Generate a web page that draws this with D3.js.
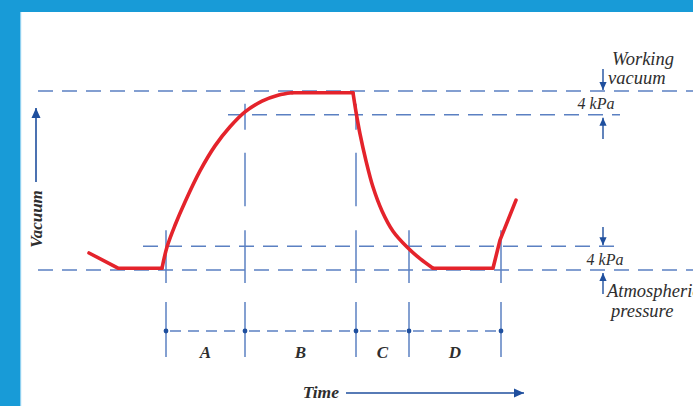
<!DOCTYPE html>
<html>
<head>
<meta charset="utf-8">
<script src="https://cdn.jsdelivr.net/npm/d3@7"></script>
<style>
  html, body { margin: 0; padding: 0; background: #ffffff; }
  svg { display: block; }
  text { font-family: "Liberation Serif", "DejaVu Serif", serif; font-style: italic; fill: #2e2e2e; }
</style>
</head>
<body>
<svg id="chart" width="693" height="406"></svg>
<script>
// Vacuum levels (kPa below atmospheric)
const levelNames = ["Atmospheric", "Low threshold", "High threshold", "Working vacuum"];
const levelValues = [0, 4, 26, 30];

// Cycle phases and their boundaries along the time axis
const phaseLabels = ["A", "B", "C", "D"];
const phaseBounds = [32, 51.75, 79.5, 92.75, 115.75];

// Vacuum trace over one cycle
const traceTime   = [12.75, 20, 31, 32.25, 34.25, 36.75, 40.5, 44.25, 48, 51.75, 56, 60, 63.5, 78.75, 79.5, 80.5, 82, 83.75, 86, 88.75, 92.25, 95.5, 98.75, 113.75, 115.5, 119.5];
const traceVacuum = [2.85, 0.3, 0.3, 3.85, 7.5, 11.4, 16.6, 20.8, 24.0, 26.5, 28.3, 29.3, 29.7, 29.7, 26.5, 22.8, 18.3, 13.9, 9.9, 6.5, 3.85, 1.9, 0.3, 0.3, 5.0, 11.7];

const W = 693, H = 406;
const svg = d3.select("#chart");

const x = d3.scaleLinear().domain([0, 160]).range([38, 678]);
const y = d3.scaleLinear().domain([0, 30]).range([270, 91]);

const guide = "#5b80c2";
const arrowBlue = "#1f4f9e";

// Frame
svg.append("rect").attr("x", 0).attr("y", 0).attr("width", W).attr("height", H).attr("fill", "#189bd7");
svg.append("rect").attr("x", 20).attr("y", 12).attr("width", W - 20).attr("height", H - 12).attr("fill", "#ffffff");
svg.append("rect").attr("x", 20).attr("y", 12).attr("width", 1.2).attr("height", H - 12).attr("fill", "#8fd0f0");

// Horizontal level lines
const levelExtent = [[0, 165], [26.25, 145], [47.5, 145.5], [0, 165]];
levelValues.forEach((v, i) => {
  svg.append("line")
    .attr("x1", x(levelExtent[i][0])).attr("x2", x(levelExtent[i][1]))
    .attr("y1", y(v)).attr("y2", y(v))
    .attr("stroke", guide).attr("stroke-width", 1.5)
    .attr("stroke-dasharray", "15,9");
});

// Vertical phase markers crossing the level lines
const vseg = (t, y1, y2) => svg.append("line")
  .attr("x1", x(t)).attr("x2", x(t)).attr("y1", y1).attr("y2", y2)
  .attr("stroke", guide).attr("stroke-width", 1.5);

phaseBounds.forEach(t => vseg(t, y(4) - 16, y(0) + 13));
[phaseBounds[1], phaseBounds[2]].forEach(t => {
  vseg(t, y(26) - 11, y(26) + 15);
  vseg(t, y(26) + 38, y(4) - 40);
});

// Phase bar
const barY = 331;
phaseBounds.forEach(t => vseg(t, 302, 357));
for (let i = 0; i < phaseBounds.length - 1; i++) {
  svg.append("line")
    .attr("x1", x(phaseBounds[i]) + 4).attr("x2", x(phaseBounds[i + 1]) - 3)
    .attr("y1", barY).attr("y2", barY)
    .attr("stroke", guide).attr("stroke-width", 1.5)
    .attr("stroke-dasharray", "11,7");
}
svg.selectAll("circle.dot").data(phaseBounds).enter().append("circle")
  .attr("class", "dot")
  .attr("cx", d => x(d)).attr("cy", barY).attr("r", 2.4)
  .attr("fill", arrowBlue);
svg.selectAll("text.phase").data(phaseLabels).enter().append("text")
  .attr("class", "phase")
  .attr("x", (d, i) => (x(phaseBounds[i]) + x(phaseBounds[i + 1])) / 2)
  .attr("y", 358)
  .attr("text-anchor", "middle")
  .attr("font-size", 17).attr("font-weight", "bold")
  .text(d => d);

// Vacuum trace, drawn piecewise so the valve switch points stay sharp
const pts = traceTime.map((t, i) => [x(t), y(traceVacuum[i])]);
const pieces = [
  { from: 0, to: 2, curve: d3.curveLinear },
  { from: 2, to: 12, curve: d3.curveCatmullRom.alpha(0.5) },
  { from: 12, to: 13, curve: d3.curveLinear },
  { from: 13, to: 22, curve: d3.curveCatmullRom.alpha(0.5) },
  { from: 22, to: 25, curve: d3.curveLinear }
];
pieces.forEach(p => {
  svg.append("path")
    .attr("d", d3.line().curve(p.curve)(pts.slice(p.from, p.to + 1)))
    .attr("fill", "none").attr("stroke", "#e4232b")
    .attr("stroke-width", 3.6)
    .attr("stroke-linejoin", "round").attr("stroke-linecap", "round");
});

// Arrow helper (line plus triangular head at the tip)
function arrow(x1, y1, x2, y2, head, width) {
  svg.append("line").attr("x1", x1).attr("y1", y1).attr("x2", x2).attr("y2", y2)
    .attr("stroke", arrowBlue).attr("stroke-width", width);
  const a = Math.atan2(y2 - y1, x2 - x1);
  const hw = head * 0.45;
  const bx = x2 - head * Math.cos(a), by = y2 - head * Math.sin(a);
  const p = [
    [x2, y2],
    [bx + hw * Math.sin(a), by - hw * Math.cos(a)],
    [bx - hw * Math.sin(a), by + hw * Math.cos(a)]
  ];
  svg.append("path").attr("d", "M" + p.join("L") + "Z").attr("fill", arrowBlue);
}

// Vertical axis
arrow(36, 182, 36, 108, 10, 1.6);
svg.append("text")
  .attr("transform", "translate(42,219) rotate(-90)")
  .attr("text-anchor", "middle")
  .attr("font-size", 17).attr("font-weight", "bold")
  .text("Vacuum");

// Time axis
arrow(346, 393, 524, 393, 10, 1.6);
svg.append("text").attr("x", 339).attr("y", 398)
  .attr("text-anchor", "end").attr("font-size", 17.5).attr("font-weight", "bold")
  .text("Time");

// Right-hand annotations
const ax = 603;
arrow(ax, 69, ax, y(30) - 1, 8, 1.4);
arrow(ax, 139, ax, y(26) + 3, 8, 1.4);
arrow(ax, 227, ax, y(4) - 1, 8, 1.4);
arrow(ax, 294, ax, y(0) + 3, 8, 1.4);

svg.append("text").attr("x", 612).attr("y", 65).attr("font-size", 18.5).text("Working");
svg.append("text").attr("x", 608).attr("y", 84).attr("font-size", 18.5).text("vacuum");
svg.append("text").attr("x", 596).attr("y", 109).attr("text-anchor", "middle").attr("font-size", 16).text("4 kPa");
svg.append("text").attr("x", 605).attr("y", 265).attr("text-anchor", "middle").attr("font-size", 16).text("4 kPa");
svg.append("text").attr("x", 607).attr("y", 297).attr("font-size", 18.5).text("Atmospheric");
svg.append("text").attr("x", 611).attr("y", 317).attr("font-size", 18.5).text("pressure");
</script>
</body>
</html>
